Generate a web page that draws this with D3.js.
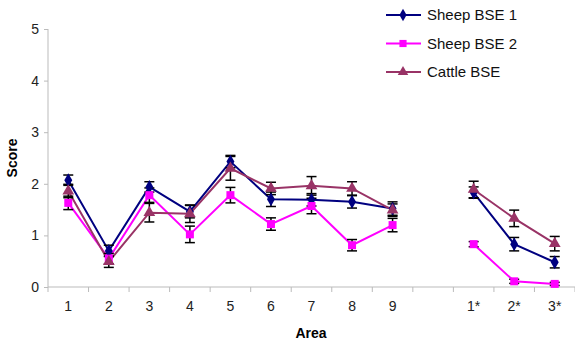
<!DOCTYPE html>
<html>
<head>
<meta charset="utf-8">
<script src="https://cdn.jsdelivr.net/npm/d3@7"></script>
<style>
  body { margin: 0; background: #fff; }
  text { font-family: Arial, "Liberation Sans", sans-serif; }
</style>
</head>
<body>
<div id="chart"></div>
<script>
var width  = 575;
var height = 343;

// categories (blank slot between 9 and 1*)
var areas = ["1", "2", "3", "4", "5", "6", "7", "8", "9", "", "1*", "2*", "3*"];
var yTicks = [0, 1, 2, 3, 4, 5];

// values; null = no point
var sheep1    = [2.07, 0.70, 1.94, 1.46, 2.43, 1.70, 1.69, 1.65, 1.52, null, 1.83, 0.83, 0.48];
var sheep1Err = [0.10, 0.11, 0.10, 0.12, 0.12, 0.14, 0.12, 0.12, 0.13, null, 0.11, 0.13, 0.11];
var sheep2    = [1.63, 0.55, 1.78, 1.02, 1.78, 1.22, 1.57, 0.81, 1.20, null, 0.83, 0.11, 0.06];
var sheep2Err = [0.13, 0.10, 0.14, 0.16, 0.15, 0.12, 0.15, 0.11, 0.13, null, 0.05, 0.04, 0.03];
var cattle    = [1.86, 0.49, 1.44, 1.42, 2.30, 1.91, 1.96, 1.91, 1.49, null, 1.89, 1.33, 0.84];
var cattleErr = [0.13, 0.11, 0.18, 0.17, 0.23, 0.12, 0.18, 0.13, 0.12, null, 0.16, 0.16, 0.14];

var series = [
  { name: "Sheep BSE 1", values: sheep1, err: sheep1Err, color: "#000080", shape: d3.symbolDiamond, size: 55 },
  { name: "Sheep BSE 2", values: sheep2, err: sheep2Err, color: "#ff00ff", shape: d3.symbolSquare, size: 64 },
  { name: "Cattle BSE",  values: cattle, err: cattleErr, color: "#993366", shape: d3.symbolTriangle, size: 60 }
];

var svg = d3.select("#chart").append("svg")
  .attr("width", width)
  .attr("height", height);

var x = d3.scaleBand().domain(d3.range(areas.length)).range([48, 575]);
var y = d3.scaleLinear().domain([0, 5]).range([287, 29]);

// y axis
var yAxis = svg.append("g")
  .attr("transform", "translate(48,0)")
  .call(d3.axisLeft(y).tickValues(yTicks).tickSize(4).tickPadding(5).tickFormat(d3.format("d")));
yAxis.select(".domain").attr("stroke", "#bbb").attr("d", "M0," + y(5) + "V" + y(0));
yAxis.selectAll(".tick line").attr("stroke", "#bbb");
yAxis.selectAll("text").attr("font-size", 14).attr("fill", "#222");

// x axis with ticks at band edges
var xg = svg.append("g").attr("transform", "translate(0," + y(0) + ")");
xg.append("line").attr("x1", 48).attr("x2", 575).attr("stroke", "#bbb");
xg.selectAll(".edge")
  .data(d3.range(areas.length + 1))
  .enter().append("line")
  .attr("x1", function(i) { return 48 + i * x.bandwidth(); })
  .attr("x2", function(i) { return 48 + i * x.bandwidth(); })
  .attr("y1", 0).attr("y2", 5)
  .attr("stroke", "#bbb");
xg.selectAll(".lab")
  .data(areas)
  .enter().append("text")
  .attr("x", function(d, i) { return x(i) + x.bandwidth() / 2; })
  .attr("y", 24)
  .attr("text-anchor", "middle")
  .attr("font-size", 14)
  .attr("fill", "#222")
  .text(function(d) { return d; });

// axis titles
svg.append("text")
  .attr("x", 311).attr("y", 338)
  .attr("text-anchor", "middle")
  .attr("font-size", 14).attr("font-weight", "bold")
  .text("Area");
svg.append("text")
  .attr("transform", "translate(17,158) rotate(-90)")
  .attr("text-anchor", "middle")
  .attr("font-size", 14).attr("font-weight", "bold")
  .text("Score");

function cx(i) { return x(i) + x.bandwidth() / 2; }

var line = d3.line()
  .defined(function(d) { return d != null; })
  .x(function(d, i) { return cx(i); })
  .y(function(d) { return y(d); });

// lines
series.forEach(function(s) {
  svg.append("path")
    .datum(s.values)
    .attr("fill", "none")
    .attr("stroke", s.color)
    .attr("stroke-width", 2)
    .attr("d", line);
});

// error bars
series.forEach(function(s) {
  var pts = s.values.map(function(v, i) { return { v: v, e: s.err[i], i: i }; })
    .filter(function(d) { return d.v != null; });
  var g = svg.append("g").attr("stroke", "#000").attr("stroke-width", 1.5);
  pts.forEach(function(d) {
    var xx = cx(d.i);
    g.append("line").attr("x1", xx).attr("x2", xx).attr("y1", y(d.v - d.e)).attr("y2", y(d.v + d.e));
    g.append("line").attr("x1", xx - 5).attr("x2", xx + 5).attr("y1", y(d.v - d.e)).attr("y2", y(d.v - d.e));
    g.append("line").attr("x1", xx - 5).attr("x2", xx + 5).attr("y1", y(d.v + d.e)).attr("y2", y(d.v + d.e));
  });
});

// markers
series.forEach(function(s) {
  svg.append("g").selectAll("path")
    .data(s.values.map(function(v, i) { return { v: v, i: i }; }).filter(function(d) { return d.v != null; }))
    .enter().append("path")
    .attr("d", d3.symbol().type(s.shape).size(s.size))
    .attr("transform", function(d) { return "translate(" + cx(d.i) + "," + y(d.v) + ")"; })
    .attr("fill", s.color);
});

// legend
var legend = svg.append("g");
series.forEach(function(s, k) {
  var ly = 15 + k * 28.5;
  legend.append("line")
    .attr("x1", 386).attr("x2", 421).attr("y1", ly).attr("y2", ly)
    .attr("stroke", s.color).attr("stroke-width", 2);
  legend.append("path")
    .attr("d", d3.symbol().type(s.shape).size(s.size * 0.8))
    .attr("transform", "translate(403," + ly + ")")
    .attr("fill", s.color);
  legend.append("text")
    .attr("x", 427).attr("y", ly + 5)
    .attr("font-size", 15).attr("fill", "#111")
    .text(s.name);
});
</script>
</body>
</html>
